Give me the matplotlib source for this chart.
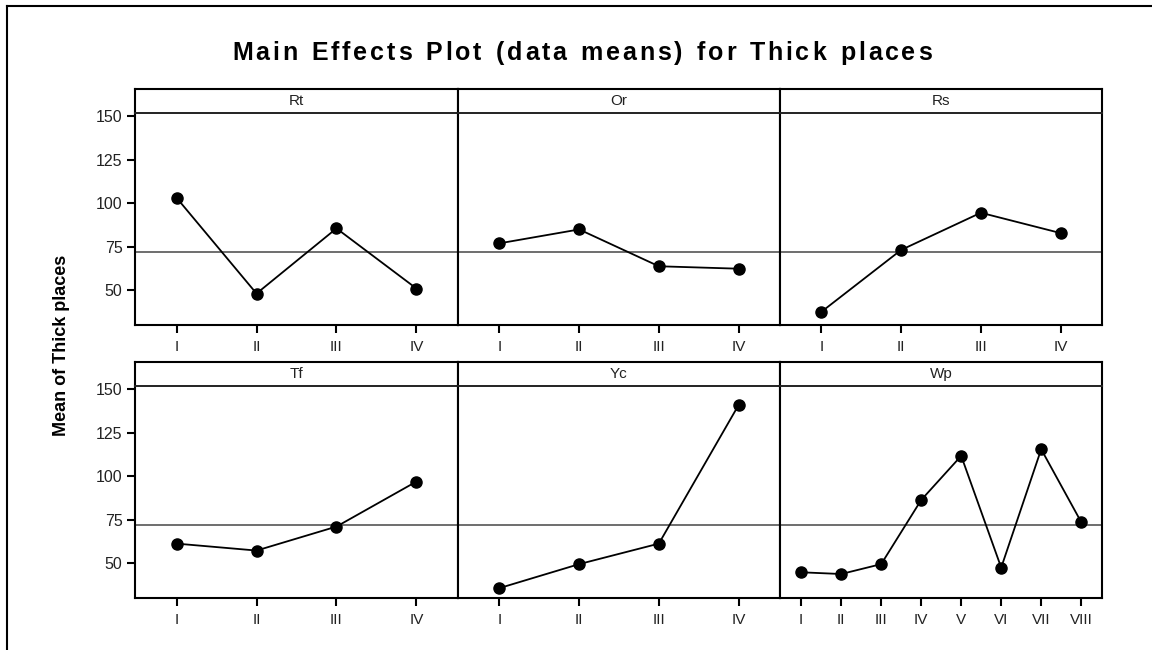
import matplotlib
matplotlib.use("Agg")
import matplotlib.pyplot as plt
from matplotlib.lines import Line2D

# factor levels
levels_4 = ['I', 'II', 'III', 'IV']
levels_8 = ['I', 'II', 'III', 'IV', 'V', 'VI', 'VII', 'VIII']

# mean of thick places per factor level
rt_means = [103.2, 48.1, 85.6, 51.0]
or_means = [77.0, 85.0, 63.8, 62.4]
rs_means = [37.6, 73.2, 94.6, 82.9]
tf_means = [61.3, 57.3, 71.1, 97.0]
yc_means = [35.7, 49.5, 61.3, 141.0]
wp_means = [44.8, 43.8, 49.5, 86.4, 111.8, 47.5, 115.6, 73.7]

grand_mean = 71.9
y_ticks = [50, 75, 100, 125, 150]

factors = ['Rt', 'Or', 'Rs', 'Tf', 'Yc', 'Wp']
factor_levels = [levels_4, levels_4, levels_4, levels_4, levels_4, levels_8]
factor_means = [rt_means, or_means, rs_means, tf_means, yc_means, wp_means]

title = 'Main Effects Plot (data means) for Thick places'

W, H = 1152, 650
plt.rcParams['font.family'] = ['Liberation Sans', 'DejaVu Sans']

fig = plt.figure(figsize=(W / 100, H / 100), dpi=100)


def rect(left, top, right, bottom):
    return [left / W, 1 - bottom / H, (right - left) / W, (bottom - top) / H]


def spaced_text(s, xc, yc, total_w, **kw):
    # draw text char by char so the letters are spread like the original
    renderer = fig.canvas.get_renderer()
    widths = []
    for ch in s:
        t = fig.text(0, 0, ch if ch != ' ' else 'n', **kw)
        widths.append(t.get_window_extent(renderer).width * (0.55 if ch == ' ' else 1.0))
        t.remove()
    gap = (total_w - sum(widths)) / (len(s) - 1)
    x = xc - total_w / 2
    for ch, w in zip(s, widths):
        if ch != ' ':
            fig.text(x / W, 1 - yc / H, ch, ha='left', va='center', **kw)
        x += w + gap


# outer frame (only left and top edges visible)
fig.add_artist(Line2D([7 / W, 7 / W], [0, 1 - 6 / H], color='black', lw=1.5,
                      transform=fig.transFigure))
fig.add_artist(Line2D([7 / W, 1], [1 - 6 / H, 1 - 6 / H], color='black', lw=1.5,
                      transform=fig.transFigure))

col_edges = [135, 458, 780, 1102]
rows = [(89, 113, 325), (362, 386, 598)]  # header top, plot top, plot bottom

for i, name in enumerate(factors):
    r, c = divmod(i, 3)
    htop, ptop, pbot = rows[r]
    left, right = col_edges[c], col_edges[c + 1]

    # plot panel
    ax = fig.add_axes(rect(left, ptop, right, pbot))
    levels = factor_levels[i]
    means = factor_means[i]
    x = list(range(1, len(levels) + 1))
    ax.axhline(grand_mean, color='#555555', lw=1.2, zorder=1)
    ax.plot(x, means, color='black', lw=1.3, marker='o', markersize=8,
            zorder=3)
    if len(levels) == 4:
        ax.set_xlim(0.48, 4.52)
    else:
        ax.set_xlim(0.47, 8.52)
    ax.set_ylim(30, 152)
    ax.set_xticks(x)
    ax.set_xticklabels(levels, fontsize=11, color='#222222')
    ax.set_yticks(y_ticks)
    if c == 0:
        ax.set_yticklabels([str(v) for v in y_ticks], fontsize=11.5, color='#222222')
    else:
        ax.tick_params(axis='y', left=False, labelleft=False)
    ax.tick_params(axis='both', direction='out', length=6, width=1.5, pad=3)
    ax.tick_params(axis='x', pad=5)
    for s in ax.spines.values():
        s.set_linewidth(1.5)
    ax.spines['top'].set_visible(False)

    # header strip
    hax = fig.add_axes(rect(left, htop, right, ptop))
    hax.set_xticks([])
    hax.set_yticks([])
    for s in hax.spines.values():
        s.set_linewidth(1.5)
    hax.spines['bottom'].set_linewidth(1.4)
    hax.spines['bottom'].set_color('#222222')
    hax.text(0.5, 0.5, name, ha='center', va='center', fontsize=11,
             color='#222222', transform=hax.transAxes)

spaced_text(title, 582, 53, 700, fontsize=18, fontweight='bold')
fig.text(62 / W, 1 - 345 / H, 'Mean of Thick places', ha='center', va='center',
         rotation=90, fontsize=13, fontweight='bold')

fig.savefig('out.png', dpi=100)
